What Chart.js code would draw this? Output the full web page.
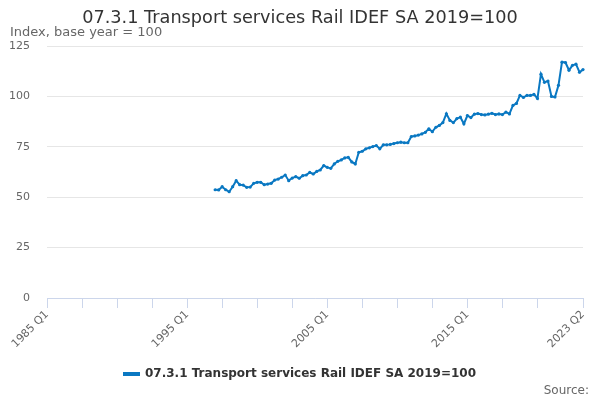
<!DOCTYPE html>
<html>
<head>
<meta charset="utf-8">
<script src="https://cdn.jsdelivr.net/npm/chart.js@4"></script>
<style>
  body { margin: 0; background: #fff; }
  #wrap { position: relative; width: 600px; height: 400px; font-family: "DejaVu Sans", sans-serif; }
  #title { position: absolute; top: 7px; left: 0; width: 600px; text-align: center; font-size: 17.7px; color: #333; }
  #sub { position: absolute; top: 24px; left: 10px; font-size: 13px; color: #666; }
  #source { position: absolute; right: 11px; bottom: 3px; font-size: 12px; color: #666; }
  canvas { position: absolute; top: 0; left: 0; }
</style>
</head>
<body>
<div id="wrap">
  <canvas id="chart" width="600" height="400"></canvas>
  <div id="title">07.3.1 Transport services Rail IDEF SA 2019=100</div>
  <div id="sub">Index, base year = 100</div>
  <div id="source">Source:</div>
</div>
<script>
// quarterly index values, 1997 Q1 .. 2023 Q2
const seriesName = '07.3.1 Transport services Rail IDEF SA 2019=100';
const firstYear = 1985, lastYear = 2023, lastQuarter = 2;
const seriesStart = '1997 Q1';
const railIdef = [
  53.7, 53.6, 55.2, 53.7,   // 1997
  52.7, 55.2, 58.2, 56.2,   // 1998
  56.0, 54.9, 55.0, 56.9,   // 1999
  57.4, 57.4, 56.2, 56.5,   // 2000
  56.9, 58.5, 59.0, 59.9,   // 2001
  61.0, 58.2, 59.5, 60.2,   // 2002
  59.4, 60.7, 61.0, 62.3,   // 2003
  61.5, 62.8, 63.5, 65.7,   // 2004
  64.8, 64.3, 66.5, 67.8,   // 2005
  68.5, 69.5, 69.8, 67.5,   // 2006
  66.5, 72.3, 72.8, 74.0,   // 2007
  74.5, 75.1, 75.6, 74.0,   // 2008
  76.0, 76.0, 76.2, 76.6,   // 2009
  77.0, 77.3, 77.0, 77.0,   // 2010
  80.1, 80.4, 80.8, 81.4,   // 2011
  82.2, 83.9, 82.5, 84.7,   // 2012
  85.6, 87.0, 91.4, 88.1,   // 2013
  87.0, 89.0, 89.7, 86.4,   // 2014
  90.5, 89.5, 91.2, 91.5,   // 2015
  91.0, 90.8, 91.2, 91.6,   // 2016
  91.0, 91.3, 91.0, 92.2,   // 2017
  91.3, 95.5, 96.5, 100.5,  // 2018
  99.5, 100.5, 100.5, 101.0, // 2019
  99.0, 111.0, 107.0, 107.6, // 2020
  100.0, 99.7, 105.5, 117.0, // 2021
  116.8, 113.0, 115.4, 116.0, // 2022
  112.0, 113.3              // 2023
];
const tickLabels = ['1985 Q1', '1995 Q1', '2005 Q1', '2015 Q1', '2023 Q2'];
const yTicks = [0, 25, 50, 75, 100, 125];

// category axis: every quarter
let quarters = [];
for (let y = firstYear; y <= lastYear; y++) {
  for (let q = 1; q <= 4; q++) {
    if (y === lastYear && q > lastQuarter) break;
    quarters.push(y + ' Q' + q);
  }
}
const lastIdx = quarters.length - 1;
const startIdx = quarters.indexOf(seriesStart);
const data = quarters.map((q, i) => (i >= startIdx ? railIdef[i - startIdx] : null));

const blue = '#0a78c2';
const ctx = document.getElementById('chart').getContext('2d');
new Chart(ctx, {
  type: 'line',
  data: {
    labels: quarters,
    datasets: [{
      label: seriesName,
      data,
      borderColor: blue,
      backgroundColor: blue,
      borderWidth: 2,
      pointRadius: 1.6,
      pointBorderWidth: 0,
      pointBackgroundColor: blue,
      tension: 0
    }]
  },
  options: {
    responsive: false,
    animation: false,
    layout: { padding: { left: 0, right: 0, top: 46, bottom: 10 } },
    plugins: {
      tooltip: { enabled: false },
      legend: {
        position: 'bottom',
        labels: {
          boxWidth: 15, boxHeight: 2, padding: 10,
          color: '#333',
          font: { family: 'DejaVu Sans', size: 12, weight: 'bold' }
        }
      }
    },
    scales: {
      x: {
        type: 'category',
        offset: false,
        afterFit: s => { s.height = 60; },
        border: { color: '#ccd6eb', width: 1 },
        grid: {
          drawOnChartArea: false,
          drawTicks: true,
          tickLength: 10,
          color: c => ((c.index % 10 === 0 && c.index < lastIdx - 5) || c.index === lastIdx) ? '#ccd6eb' : 'rgba(0,0,0,0)'
        },
        ticks: {
          autoSkip: false,
          maxRotation: 45, minRotation: 45,
          padding: 0,
          color: '#666',
          font: { family: 'DejaVu Sans', size: 11 },
          callback: (v, i) => (tickLabels.includes(quarters[i]) ? quarters[i] : '')
        }
      },
      y: {
        min: yTicks[0], max: yTicks[yTicks.length - 1],
        afterFit: s => { s.width = 47; },
        border: { display: false },
        grid: { color: '#e6e6e6', drawTicks: false },
        ticks: {
          stepSize: 25,
          padding: 17,
          color: '#666',
          font: { family: 'DejaVu Sans', size: 11 }
        }
      },
      // empty right-hand gutter so the legend stays centred on the page
      gutter: {
        position: 'right',
        afterFit: s => { s.width = 17; },
        border: { display: false },
        grid: { drawOnChartArea: false, drawTicks: false },
        ticks: { display: false }
      }
    }
  }
});
</script>
</body>
</html>
